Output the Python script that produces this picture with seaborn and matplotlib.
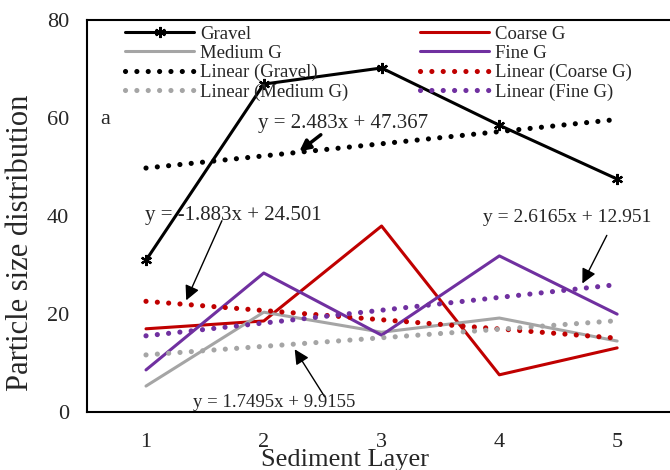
import numpy as np
import pandas as pd
import matplotlib
matplotlib.use('Agg')
import matplotlib.pyplot as plt
import seaborn as sns

# values
layers = [1, 2, 3, 4, 5]
gravel = [31.0, 67.0, 70.3, 58.6, 47.6]
coarse = [17.0, 18.6, 38.0, 7.6, 13.1]
medium = [5.3, 20.4, 16.3, 19.2, 14.5]
fine = [8.6, 28.4, 15.7, 31.9, 20.0]

names = ['Gravel', 'Coarse G', 'Medium G', 'Fine G']
colors = ['black', '#C00000', '#A5A5A5', '#7030A0']

# Excel trendline coefficients printed on the chart
slopes = [2.483, -1.883, 1.7495, 2.6165]
intercepts = [47.367, 24.501, 9.9155, 12.951]
eq_labels = ['y = 2.483x + 47.367', 'y = -1.883x + 24.501',
             'y = 1.7495x + 9.9155', 'y = 2.6165x + 12.951']

sns.set_style('white')
plt.rcParams['font.family'] = ['Liberation Serif', 'DejaVu Serif']

df = pd.DataFrame({'Layer': layers, 'Gravel': gravel, 'Coarse G': coarse,
                   'Medium G': medium, 'Fine G': fine})

fig = plt.figure(figsize=(6.7, 4.7), dpi=100)
ax = fig.add_axes([0.130, 0.1234, 0.879, 0.833])

lines = {}
for name, c in zip(names, colors):
    if name == 'Gravel':
        sns.lineplot(x='Layer', y=name, data=df, ax=ax, color=c, lw=2.2,
                     marker=(6, 2, 0), markersize=8, mew=1.6, mec=c, label=name)
    else:
        sns.lineplot(x='Layer', y=name, data=df, ax=ax, color=c, lw=2.2, label=name)
    lines[name] = ax.get_lines()[-1]

# linear trendlines
xs = np.array(layers, dtype=float)
for name, c, m, b in zip(names, colors, slopes, intercepts):
    sns.lineplot(x=xs, y=m * xs + b, ax=ax, color=c, lw=3.7,
                 linestyle=(0, (0.01, 2.2)), dash_capstyle='round',
                 label='Linear (' + name + ')')
    lines['Linear (' + name + ')'] = ax.get_lines()[-1]

ax.set_xlim(0.5, 5.5)
ax.set_ylim(0, 80)
ax.set_xticks(layers)
ax.set_yticks([0, 20, 40, 60, 80])
ax.tick_params(length=0, labelsize=16)
ax.tick_params(axis='y', pad=13)
ax.tick_params(axis='x', pad=15)
ax.set_xlabel('')
ax.set_ylabel('')
for s in ['left', 'bottom', 'top']:
    ax.spines[s].set_linewidth(1.5)
    ax.spines[s].set_color('black')
ax.spines['right'].set_visible(False)

fig.text(0.515, 0.022, 'Sediment Layer', fontsize=19, ha='center', va='center')
fig.text(0.030, 0.483, 'Particle size distribution', fontsize=22,
         rotation=90, ha='center', va='center')

order = ['Gravel', 'Medium G', 'Linear (Gravel)', 'Linear (Medium G)',
         'Coarse G', 'Fine G', 'Linear (Coarse G)', 'Linear (Fine G)']
ax.legend([lines[k] for k in order], order, ncol=2, frameon=False,
          loc='upper left', bbox_to_anchor=(0.1866, 0.946),
          bbox_transform=fig.transFigure, fontsize=13.5, borderpad=0,
          handlelength=3.7, handletextpad=0.3, columnspacing=3.8,
          labelspacing=0.12, borderaxespad=0)

ax.text(0.61, 59.7, 'a', fontsize=16, va='center')

# equation callouts
ax.annotate('', xy=(2.283, 52.9), xytext=(2.503, 57.0),
            arrowprops=dict(arrowstyle='-|>', color='black', lw=2.5, mutation_scale=16))
ax.text(1.952, 58.85, eq_labels[0], fontsize=15, va='center')

ax.annotate('', xy=(1.332, 22.3), xytext=(1.654, 39.6),
            arrowprops=dict(arrowstyle='-|>', color='black', lw=1, mutation_scale=22))
ax.text(0.992, 40.25, eq_labels[1], fontsize=15, va='center')

ax.annotate('', xy=(2.25, 13.3), xytext=(2.529, 2.66),
            arrowprops=dict(arrowstyle='-|>', color='black', lw=1, mutation_scale=22))
ax.text(1.40, 1.9, eq_labels[2], fontsize=13.5, va='center')

ax.annotate('', xy=(4.694, 25.75), xytext=(4.923, 36.6),
            arrowprops=dict(arrowstyle='-|>', color='black', lw=1, mutation_scale=22))
ax.text(3.862, 39.8, eq_labels[3], fontsize=14, va='center')

fig.savefig('out.png', dpi=100)
